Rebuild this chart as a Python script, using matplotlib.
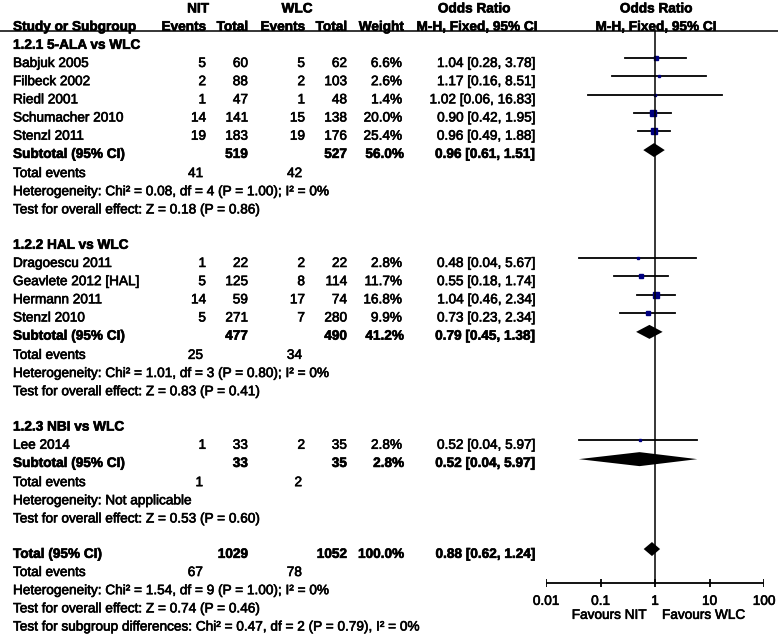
import matplotlib.pyplot as plt
import matplotlib.patheffects as pe

plt.rcParams["font.family"] = ["Liberation Sans", "DejaVu Sans"]

# --- data ---
g1_names = ["Babjuk 2005", "Filbeck 2002", "Riedl 2001", "Schumacher 2010", "Stenzl 2011"]
g1_nit_ev = [5, 2, 1, 14, 19]
g1_nit_n = [60, 88, 47, 141, 183]
g1_wlc_ev = [5, 2, 1, 15, 19]
g1_wlc_n = [62, 103, 48, 138, 176]
g1_weight = [6.6, 2.6, 1.4, 20.0, 25.4]
g1_or = [1.04, 1.17, 1.02, 0.90, 0.96]
g1_lo = [0.28, 0.16, 0.06, 0.42, 0.49]
g1_hi = [3.78, 8.51, 16.83, 1.95, 1.88]

g2_names = ["Dragoescu 2011", "Geavlete 2012 [HAL]", "Hermann 2011", "Stenzl 2010"]
g2_nit_ev = [1, 5, 14, 5]
g2_nit_n = [22, 125, 59, 271]
g2_wlc_ev = [2, 8, 17, 7]
g2_wlc_n = [22, 114, 74, 280]
g2_weight = [2.8, 11.7, 16.8, 9.9]
g2_or = [0.48, 0.55, 1.04, 0.73]
g2_lo = [0.04, 0.18, 0.46, 0.23]
g2_hi = [5.67, 1.74, 2.34, 2.34]

g3_names = ["Lee 2014"]
g3_nit_ev = [1]
g3_nit_n = [33]
g3_wlc_ev = [2]
g3_wlc_n = [35]
g3_weight = [2.8]
g3_or = [0.52]
g3_lo = [0.04]
g3_hi = [5.97]

group_titles = ["1.2.1 5-ALA vs WLC", "1.2.2 HAL vs WLC", "1.2.3 NBI vs WLC"]
sub_nit_n = [519, 477, 33]
sub_wlc_n = [527, 490, 35]
sub_weight = [56.0, 41.2, 2.8]
sub_or = [0.96, 0.79, 0.52]
sub_lo = [0.61, 0.45, 0.04]
sub_hi = [1.51, 1.38, 5.97]
sub_nit_ev = [41, 25, 1]
sub_wlc_ev = [42, 34, 2]
sub_het = ["Heterogeneity: Chi\u00b2 = 0.08, df = 4 (P = 1.00); I\u00b2 = 0%",
           "Heterogeneity: Chi\u00b2 = 1.01, df = 3 (P = 0.80); I\u00b2 = 0%",
           "Heterogeneity: Not applicable"]
sub_z = ["Test for overall effect: Z = 0.18 (P = 0.86)",
         "Test for overall effect: Z = 0.83 (P = 0.41)",
         "Test for overall effect: Z = 0.53 (P = 0.60)"]

tot_nit_n, tot_wlc_n = 1029, 1052
tot_or, tot_lo, tot_hi = 0.88, 0.62, 1.24
tot_nit_ev, tot_wlc_ev = 67, 78
tot_het = "Heterogeneity: Chi\u00b2 = 1.54, df = 9 (P = 1.00); I\u00b2 = 0%"
tot_z = "Test for overall effect: Z = 0.74 (P = 0.46)"
tot_sub = "Test for subgroup differences: Chi\u00b2 = 0.47, df = 2 (P = 0.79), I\u00b2 = 0%"

ticks = [0.01, 0.1, 1, 10, 100]
tick_labels = ["0.01", "0.1", "1", "10", "100"]

groups = [
    (g1_names, g1_nit_ev, g1_nit_n, g1_wlc_ev, g1_wlc_n, g1_weight, g1_or, g1_lo, g1_hi),
    (g2_names, g2_nit_ev, g2_nit_n, g2_wlc_ev, g2_wlc_n, g2_weight, g2_or, g2_lo, g2_hi),
    (g3_names, g3_nit_ev, g3_nit_n, g3_wlc_ev, g3_wlc_n, g3_weight, g3_or, g3_lo, g3_hi),
]

# --- layout (pixels) ---
W, H = 778, 634
FS = 9.8
ROW0, STEP = 44, 18.18
X_NAME, X_NEV, X_NN, X_WEV, X_WN, X_WT, X_OR = 13, 206, 248, 305, 347, 402, 535
BLUE = "#00007f"
# the reference text looks a bit heavy (scanned), thicken slightly
heavy = [pe.withStroke(linewidth=0.45, foreground="black")]

fig = plt.figure(figsize=(W / 100, H / 100), dpi=100)
ax = fig.add_axes([0, 0, 1, 1])
ax.set_xlim(0, W)
ax.set_ylim(H, 0)
ax.axis("off")

# forest panel, log scale, same pixel rows
fx0, fx1 = 546, 764
fa = fig.add_axes([fx0 / W, 0, (fx1 - fx0) / W, 1])
fa.set_xscale("log")
fa.set_xlim(0.01, 100)
fa.set_ylim(H, 0)
fa.axis("off")


def ry(i):
    return ROW0 + STEP * i


def txt(x, y, s, ha="left", bold=False):
    # y is the visual centre of the caps
    ax.text(x, y + 4.8, s, ha=ha, va="baseline", fontsize=FS,
            fontweight="bold" if bold else "normal", path_effects=heavy)


# header
txt(198, ry(-2), "NIT", "center", True)
txt(297, ry(-2), "WLC", "center", True)
txt(474, ry(-2), "Odds Ratio", "center", True)
txt(656, ry(-2), "Odds Ratio", "center", True)
txt(X_NAME, ry(-1), "Study or Subgroup", bold=True)
txt(X_NEV, ry(-1), "Events", "right", True)
txt(X_NN, ry(-1), "Total", "right", True)
txt(X_WEV, ry(-1), "Events", "right", True)
txt(X_WN, ry(-1), "Total", "right", True)
txt(X_WT + 2, ry(-1), "Weight", "right", True)
txt(477, ry(-1), "M-H, Fixed, 95% CI", "center", True)
txt(656, ry(-1), "M-H, Fixed, 95% CI", "center", True)
ax.plot([0, W], [31, 31], color="black", lw=1.1)


def diamond(est, lo, hi, y):
    fa.fill([lo, est, hi, est], [y, y - 7, y, y + 7], color="black", lw=0)


row = 0
for gi, (names, nev, nn, wev, wn, wt, orv, lo, hi) in enumerate(groups):
    txt(X_NAME, ry(row), group_titles[gi], bold=True)
    row += 1
    for k in range(len(names)):
        y = ry(row)
        txt(X_NAME, y, names[k])
        txt(X_NEV, y, str(nev[k]), "right")
        txt(X_NN, y, str(nn[k]), "right")
        txt(X_WEV, y, str(wev[k]), "right")
        txt(X_WN, y, str(wn[k]), "right")
        txt(X_WT, y, f"{wt[k]:.1f}%", "right")
        txt(X_OR, y, f"{orv[k]:.2f} [{lo[k]:.2f}, {hi[k]:.2f}]", "right")
        my = y - 4
        fa.plot([lo[k], hi[k]], [my, my], color="black", lw=1.3)
        side = max(2.0, 1.35 * wt[k] ** 0.5)
        fa.plot(orv[k], my, marker="s", ms=side * 0.72, color=BLUE, mec=BLUE, lw=0)
        row += 1
    y = ry(row)
    txt(X_NAME, y, "Subtotal (95% CI)", bold=True)
    txt(X_NN, y, str(sub_nit_n[gi]), "right", True)
    txt(X_WN, y, str(sub_wlc_n[gi]), "right", True)
    txt(X_WT + 2, y, f"{sub_weight[gi]:.1f}%", "right", True)
    txt(X_OR, y, f"{sub_or[gi]:.2f} [{sub_lo[gi]:.2f}, {sub_hi[gi]:.2f}]", "right", True)
    diamond(sub_or[gi], sub_lo[gi], sub_hi[gi], y - 3)
    row += 1
    y = ry(row) + 1
    txt(X_NAME, y, "Total events")
    txt(X_NEV - 3, y, str(sub_nit_ev[gi]), "right")
    txt(X_WEV - 3, y, str(sub_wlc_ev[gi]), "right")
    txt(X_NAME, ry(row + 1) + 1, sub_het[gi])
    txt(X_NAME, ry(row + 2) + 1, sub_z[gi])
    row += 4

y = ry(row)
txt(X_NAME, y, "Total (95% CI)", bold=True)
txt(X_NN, y, str(tot_nit_n), "right", True)
txt(X_WN, y, str(tot_wlc_n), "right", True)
txt(X_WT + 2, y, "100.0%", "right", True)
txt(X_OR, y, f"{tot_or:.2f} [{tot_lo:.2f}, {tot_hi:.2f}]", "right", True)
diamond(tot_or, tot_lo, tot_hi, y - 4)
txt(X_NAME, ry(row + 1), "Total events")
txt(X_NEV - 3, ry(row + 1), str(tot_nit_ev), "right")
txt(X_WEV - 3, ry(row + 1), str(tot_wlc_ev), "right")
txt(X_NAME, ry(row + 2), tot_het)
txt(X_NAME, ry(row + 3), tot_z)
txt(X_NAME, ry(row + 4), tot_sub)

# null line and bottom axis
axis_y = 583
fa.plot([1, 1], [31, axis_y], color="black", lw=1.1)
fa.plot([ticks[0], ticks[-1]], [axis_y, axis_y], color="black", lw=1.3)
fa.vlines(ticks, axis_y - 4, axis_y + 4, color="black", lw=1.3)
for t, lab in zip(ticks, tick_labels):
    fa.text(t, 600 + 4.8, lab, ha="center", va="baseline", fontsize=FS,
            path_effects=heavy)
txt(647, 614, "Favours NIT", "right")
txt(662, 614, "Favours WLC", "left")

fig.savefig("out.png", dpi=100)
